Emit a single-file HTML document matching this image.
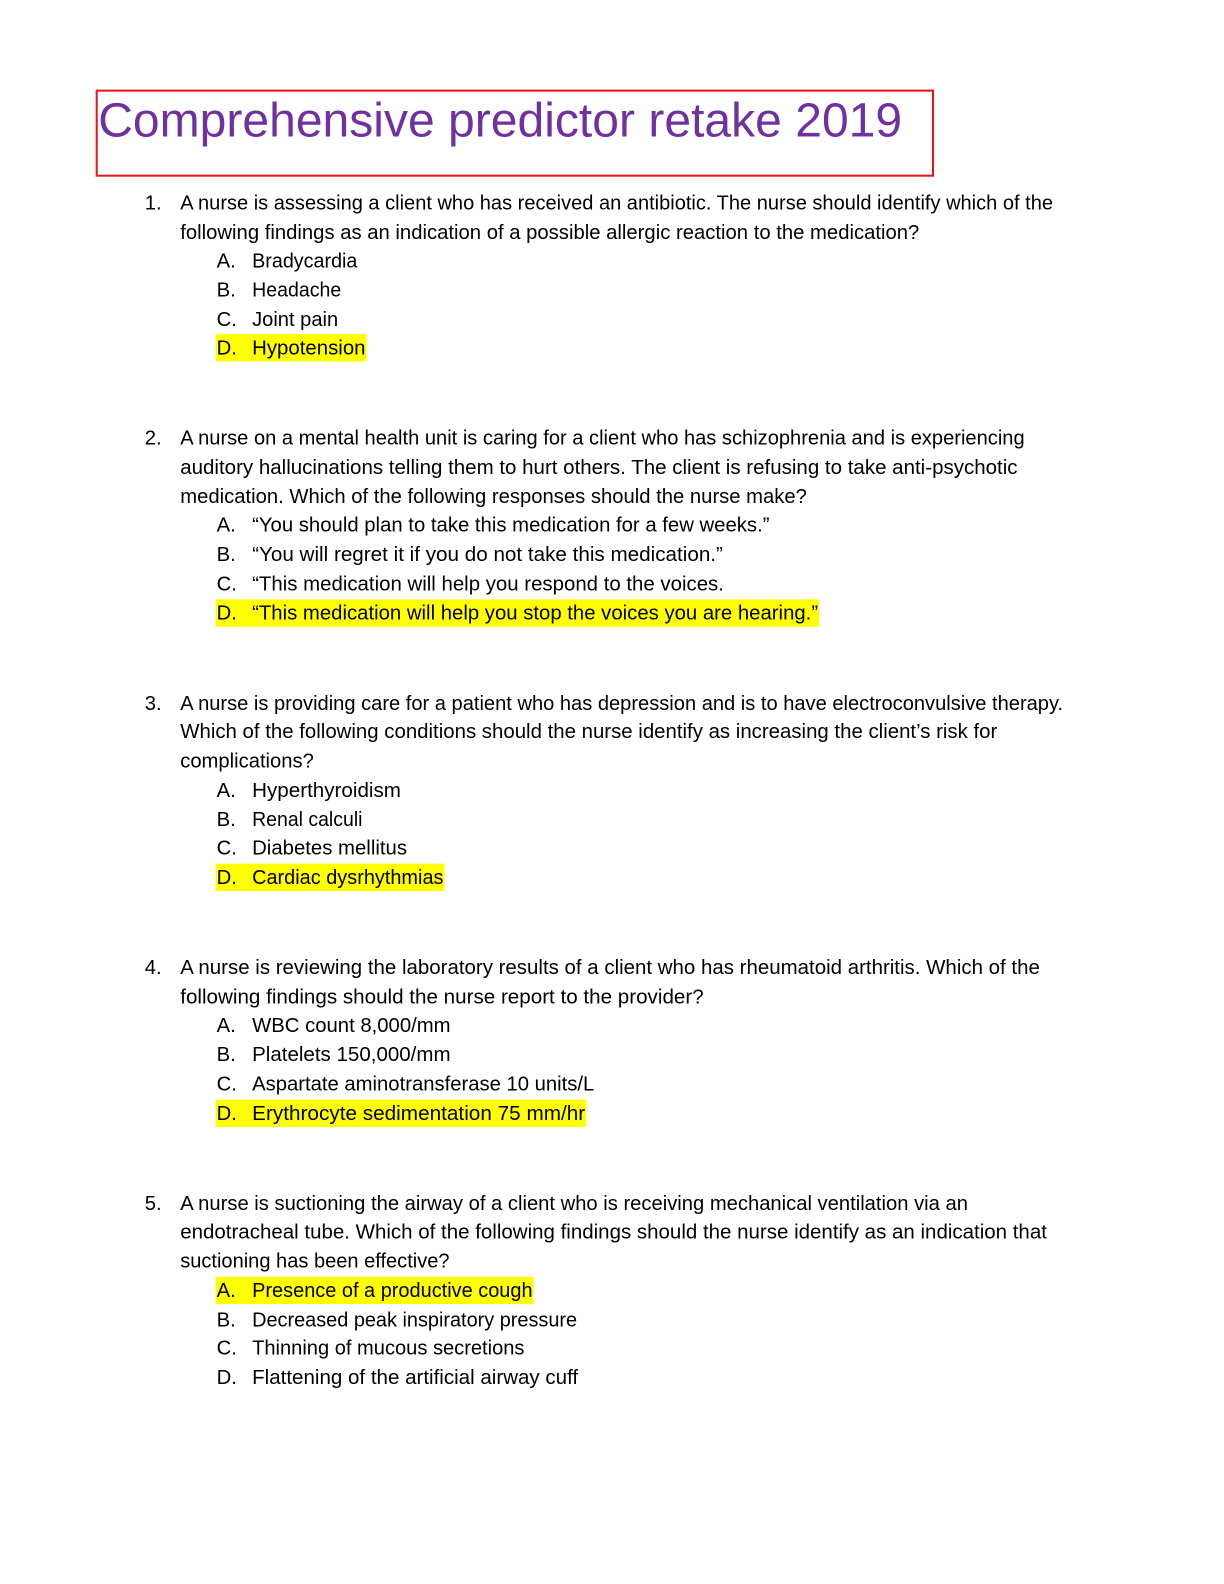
<!DOCTYPE html>
<html><head><meta charset="utf-8"><style>
html,body{margin:0;padding:0;background:#fff;width:1224px;height:1584px;overflow:hidden}
svg{display:block;position:absolute;left:0;top:0}
text{font-family:"Liberation Sans",sans-serif;font-size:20px;fill:#000}
.t{font-size:48px;fill:#7030a0}
</style></head><body>
<svg width="1224" height="1584" viewBox="0 0 1224 1584" xmlns="http://www.w3.org/2000/svg">
<g transform="translate(0,-1) scale(1.0125)">
<rect x="95.5" y="90.5" width="826" height="84" fill="none" stroke="#e8141b" stroke-width="2"/>
<text class="t" x="97" y="136" textLength="794" lengthAdjust="spacingAndGlyphs">Comprehensive predictor retake 2019</text>

<g fill="#ffff00">
<rect x="213" y="331" width="149" height="27"/>
<rect x="213" y="593" width="596" height="27"/>
<rect x="213" y="854" width="226" height="27"/>
<rect x="213" y="1087" width="366" height="27"/>
<rect x="213" y="1262" width="314" height="27"/>
</g>

<text x="143" y="208">1.</text>
<text x="178" y="208" textLength="862" lengthAdjust="spacingAndGlyphs">A nurse is assessing a client who has received an antibiotic. The nurse should identify which of the</text>
<text x="178" y="237" textLength="730" lengthAdjust="spacingAndGlyphs">following findings as an indication of a possible allergic reaction to the medication?</text>
<text x="214" y="265">A.</text><text x="249" y="265" textLength="104" lengthAdjust="spacingAndGlyphs">Bradycardia</text>
<text x="214" y="294">B.</text><text x="249" y="294" textLength="88" lengthAdjust="spacingAndGlyphs">Headache</text>
<text x="214" y="323">C.</text><text x="249" y="323" textLength="85" lengthAdjust="spacingAndGlyphs">Joint pain</text>
<text x="214" y="351">D.</text><text x="249" y="351" textLength="112" lengthAdjust="spacingAndGlyphs">Hypotension</text>

<text x="143" y="440">2.</text>
<text x="178" y="440" textLength="834" lengthAdjust="spacingAndGlyphs">A nurse on a mental health unit is caring for a client who has schizophrenia and is experiencing</text>
<text x="178" y="469" textLength="827" lengthAdjust="spacingAndGlyphs">auditory hallucinations telling them to hurt others. The client is refusing to take anti-psychotic</text>
<text x="178" y="498" textLength="619" lengthAdjust="spacingAndGlyphs">medication. Which of the following responses should the nurse make?</text>
<text x="214" y="526">A.</text><text x="249" y="526" textLength="511" lengthAdjust="spacingAndGlyphs">“You should plan to take this medication for a few weeks.”</text>
<text x="214" y="555">B.</text><text x="249" y="555" textLength="465" lengthAdjust="spacingAndGlyphs">“You will regret it if you do not take this medication.”</text>
<text x="214" y="584">C.</text><text x="249" y="584" textLength="466" lengthAdjust="spacingAndGlyphs">“This medication will help you respond to the voices.</text>
<text x="214" y="613">D.</text><text x="249" y="613" textLength="559" lengthAdjust="spacingAndGlyphs">“This medication will help you stop the voices you are hearing.”</text>

<text x="143" y="702">3.</text>
<text x="178" y="702" textLength="872" lengthAdjust="spacingAndGlyphs">A nurse is providing care for a patient who has depression and is to have electroconvulsive therapy.</text>
<text x="178" y="730" textLength="807" lengthAdjust="spacingAndGlyphs">Which of the following conditions should the nurse identify as increasing the client’s risk for</text>
<text x="178" y="759" textLength="132" lengthAdjust="spacingAndGlyphs">complications?</text>
<text x="214" y="788">A.</text><text x="249" y="788" textLength="147" lengthAdjust="spacingAndGlyphs">Hyperthyroidism</text>
<text x="214" y="817">B.</text><text x="249" y="817" textLength="109" lengthAdjust="spacingAndGlyphs">Renal calculi</text>
<text x="214" y="845">C.</text><text x="249" y="845" textLength="153" lengthAdjust="spacingAndGlyphs">Diabetes mellitus</text>
<text x="214" y="874">D.</text><text x="249" y="874" textLength="189" lengthAdjust="spacingAndGlyphs">Cardiac dysrhythmias</text>

<text x="143" y="963">4.</text>
<text x="178" y="963" textLength="849" lengthAdjust="spacingAndGlyphs">A nurse is reviewing the laboratory results of a client who has rheumatoid arthritis. Which of the</text>
<text x="178" y="992" textLength="517" lengthAdjust="spacingAndGlyphs">following findings should the nurse report to the provider?</text>
<text x="214" y="1020">A.</text><text x="249" y="1020" textLength="196" lengthAdjust="spacingAndGlyphs">WBC count 8,000/mm</text>
<text x="214" y="1049">B.</text><text x="249" y="1049" textLength="196" lengthAdjust="spacingAndGlyphs">Platelets 150,000/mm</text>
<text x="214" y="1078">C.</text><text x="249" y="1078" textLength="338" lengthAdjust="spacingAndGlyphs">Aspartate aminotransferase 10 units/L</text>
<text x="214" y="1107">D.</text><text x="249" y="1107" textLength="329" lengthAdjust="spacingAndGlyphs">Erythrocyte sedimentation 75 mm/hr</text>

<text x="143" y="1196">5.</text>
<text x="178" y="1196" textLength="778" lengthAdjust="spacingAndGlyphs">A nurse is suctioning the airway of a client who is receiving mechanical ventilation via an</text>
<text x="178" y="1224" textLength="856" lengthAdjust="spacingAndGlyphs">endotracheal tube. Which of the following findings should the nurse identify as an indication that</text>
<text x="178" y="1253" textLength="266" lengthAdjust="spacingAndGlyphs">suctioning has been effective?</text>
<text x="214" y="1282">A.</text><text x="249" y="1282" textLength="277" lengthAdjust="spacingAndGlyphs">Presence of a productive cough</text>
<text x="214" y="1311">B.</text><text x="249" y="1311" textLength="321" lengthAdjust="spacingAndGlyphs">Decreased peak inspiratory pressure</text>
<text x="214" y="1339">C.</text><text x="249" y="1339" textLength="269" lengthAdjust="spacingAndGlyphs">Thinning of mucous secretions</text>
<text x="214" y="1368">D.</text><text x="249" y="1368" textLength="322" lengthAdjust="spacingAndGlyphs">Flattening of the artificial airway cuff</text>
</g>
</svg>
</body></html>
